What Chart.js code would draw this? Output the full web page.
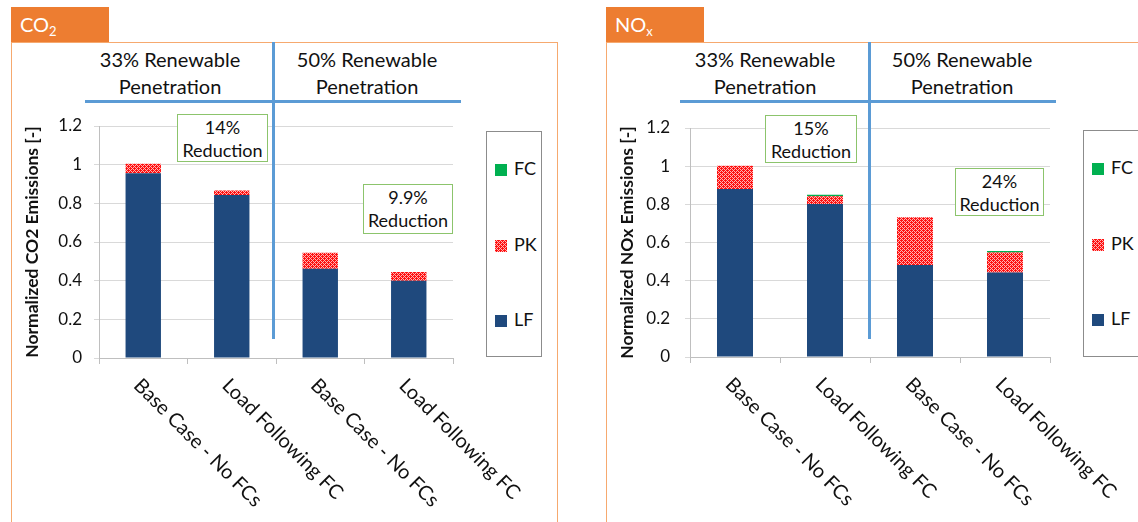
<!DOCTYPE html>
<html>
<head>
<meta charset="utf-8">
<script src="https://cdn.jsdelivr.net/npm/chart.js@4.4.1/dist/chart.umd.min.js"></script>
<style>
  html, body { margin: 0; padding: 0; background: #fff; }
  body { width: 1138px; height: 522px; position: relative; overflow: hidden; font-family: Lato, "Open Sans", sans-serif; }
  .tab { position: absolute; top: 7px; width: 98px; height: 35px; background: #ed7d31; color: #fff; font-size: 20px; line-height: 35px; box-sizing: border-box; padding-left: 9px; }
  .tab sub { font-size: 13px; vertical-align: -4px; line-height: 0; }
  .panel { position: absolute; top: 42px; border: 1.5px solid #f6a96f; box-sizing: border-box; }
  .hdr { position: absolute; width: 200px; margin-left: -100px; text-align: center; font-size: 20px; line-height: 27px; color: #111; top: 46px; z-index: 3; }
  .bl { position: absolute; background: #5b9bd5; z-index: 4; }
  .note { position: absolute; border: 1.5px solid #8cc46c; background: #fff; box-sizing: border-box; text-align: center; font-size: 18px; line-height: 23px; color: #111; padding-top: 1px; z-index: 3; }
  .legend { position: absolute; border: 1px solid #8c8c8c; background: #fff; box-sizing: border-box; z-index: 3; }
  .legend .it { position: absolute; left: 8px; height: 20px; margin-top: -10px; font-size: 18px; line-height: 20px; color: #111; white-space: nowrap; }
  .legend .sw { display: inline-block; width: 12px; height: 12px; margin-right: 7px; vertical-align: -1px; }
  .cv { position: absolute; top: 100px; height: 422px; }
</style>
</head>
<body>
<!-- CO2 panel -->
<div class="panel" style="left:11px; width:547px; height:500px;"></div>
<div class="tab" style="left:11px;">CO<sub>2</sub></div>
<!-- NOx panel -->
<div class="panel" style="left:606px; width:560px; height:500px;"></div>
<div class="tab" style="left:606px;">NO<sub>x</sub></div>

<div class="cv" style="left:11px; width:540px;"><canvas id="co2"></canvas></div>
<div class="cv" style="left:606px; width:532px;"><canvas id="nox"></canvas></div>

<div class="hdr" style="left:170px;">33% Renewable<br>Penetration</div>
<div class="hdr" style="left:367px;">50% Renewable<br>Penetration</div>
<div class="hdr" style="left:765px;">33% Renewable<br>Penetration</div>
<div class="hdr" style="left:962px;">50% Renewable<br>Penetration</div>

<div class="bl" style="left:85px; top:100px; width:376px; height:3px;"></div>
<div class="bl" style="left:272px; top:42px; width:3px; height:297px;"></div>
<div class="bl" style="left:680px; top:100px; width:376px; height:3px;"></div>
<div class="bl" style="left:868px; top:42px; width:3px; height:297px;"></div>

<div class="note" style="left:177px; top:114px; width:91px; height:48px;">14%<br>Reduction</div>
<div class="note" style="left:363px; top:184px; width:90px; height:50px;">9.9%<br>Reduction</div>
<div class="note" style="left:765px; top:115px; width:92px; height:48px;">15%<br>Reduction</div>
<div class="note" style="left:955px; top:168px; width:89px; height:48px;">24%<br>Reduction</div>

<div class="legend" id="legCO2" style="left:486px; top:131px; width:56px; height:226px;"></div>
<div class="legend" id="legNOx" style="left:1083px; top:130px; width:70px; height:227px;"></div>

<script>
// Scenarios on the x axis
const categories = ['Base Case - No FCs', 'Load Following FC', 'Base Case - No FCs', 'Load Following FC'];
const seriesNames = ['LF', 'PK', 'FC'];

// Normalized CO2 emissions, stacked by generator type
const co2LF = [0.955, 0.843, 0.462, 0.400];
const co2PK = [0.050, 0.024, 0.083, 0.045];
const co2FC = [0, 0, 0, 0];

// Normalized NOx emissions, stacked by generator type
const noxLF = [0.880, 0.802, 0.482, 0.443];
const noxPK = [0.122, 0.040, 0.250, 0.104];
const noxFC = [0, 0.008, 0, 0.008];

const yTickLabels = ['0', '0.2', '0.4', '0.6', '0.8', '1', '1.2'];

// Dotted red fill for the peaker segment
const dotTile = document.createElement('canvas');
dotTile.width = 4; dotTile.height = 4;
(function () {
  const g = dotTile.getContext('2d');
  g.fillStyle = '#ffb4b4';
  g.fillRect(0, 0, 4, 4);
  g.fillStyle = '#ff1010';
  for (let y = 0; y < 4; y++) for (let x = 0; x < 4; x++) {
    if ((x + y) % 2 === 0 || (x === 3 && y === 0) || (x === 1 && y === 2)) g.fillRect(x, y, 1, 1);
  }
})();
const dots = dotTile.getContext('2d').createPattern(dotTile, 'repeat');
const colors = { LF: '#1f497d', PK: dots, FC: '#00b050' };
const swatch = { LF: '#1f497d', PK: 'url(' + dotTile.toDataURL() + ')', FC: '#00b050' };

// Slanted category labels hanging down-right from each bar
const slantLabels = {
  id: 'slantLabels',
  afterDraw(chart) {
    const x = chart.scales.x;
    const ctx = chart.ctx;
    ctx.save();
    ctx.font = '20px Lato, "Open Sans", sans-serif';
    ctx.fillStyle = '#111';
    ctx.textAlign = 'left';
    ctx.textBaseline = 'top';
    categories.forEach((lab, i) => {
      const px = x.getPixelForValue(i) + 1;
      const py = x.top + 17;
      ctx.save();
      ctx.translate(px, py);
      ctx.rotate(Math.PI / 4);
      ctx.fillText(lab, 0, 0);
      ctx.restore();
    });
    ctx.restore();
  }
};

function build(id, lf, pk, fc, title, geom) {
  const data = { LF: lf, PK: pk, FC: fc };
  return new Chart(document.getElementById(id), {
    type: 'bar',
    data: {
      labels: categories,
      datasets: seriesNames.map(n => ({
        label: n,
        data: data[n],
        backgroundColor: colors[n],
        borderWidth: 0,
        barPercentage: 0.4,
        categoryPercentage: 1.0
      }))
    },
    options: {
      responsive: true,
      maintainAspectRatio: false,
      animation: false,
      layout: { padding: { left: 0, top: geom.top, right: geom.right, bottom: 0 } },
      plugins: { legend: { display: false }, tooltip: { enabled: false } },
      scales: {
        x: {
          stacked: true,
          afterFit: s => { s.height = geom.xh; },
          ticks: { display: false },
          grid: { drawOnChartArea: false, drawTicks: true, tickLength: 6, color: '#bfbfbf', offset: true },
          border: { color: '#bfbfbf' }
        },
        y: {
          stacked: true,
          min: 0, max: 1.2,
          afterFit: s => { s.width = geom.yw; },
          ticks: {
            stepSize: 0.2,
            padding: geom.tp,
            color: '#111',
            font: { family: 'Lato, "Open Sans", sans-serif', size: 17 },
            callback: (v, i) => yTickLabels[i]
          },
          grid: { color: '#d9d9d9', tickLength: 5 },
          border: { color: '#bfbfbf' },
          title: {
            display: true,
            text: title,
            color: '#111',
            font: { family: 'Lato, "Open Sans", sans-serif', size: 17.5, weight: 'bold' },
            padding: { top: 11, bottom: 0 }
          }
        }
      }
    },
    plugins: [slantLabels]
  });
}

build('co2', co2LF, co2PK, co2FC, 'Normalized CO2 Emissions [-]', { top: 26, right: 98, xh: 164, yw: 88, tp: 12 });
build('nox', noxLF, noxPK, noxFC, 'Normalized NOx Emissions [-]', { top: 28, right: 88, xh: 165, yw: 84, tp: 15 });

// Legends list the stack from top to bottom
function legend(id) {
  const el = document.getElementById(id);
  const ys = [36, 112, 187];
  ['FC', 'PK', 'LF'].forEach((n, i) => {
    const d = document.createElement('div');
    d.className = 'it';
    d.style.top = ys[i] + 'px';
    const s = document.createElement('span');
    s.className = 'sw';
    s.style.background = swatch[n];
    d.appendChild(s);
    d.appendChild(document.createTextNode(n));
    el.appendChild(d);
  });
}
legend('legCO2');
legend('legNOx');
</script>
</body>
</html>
